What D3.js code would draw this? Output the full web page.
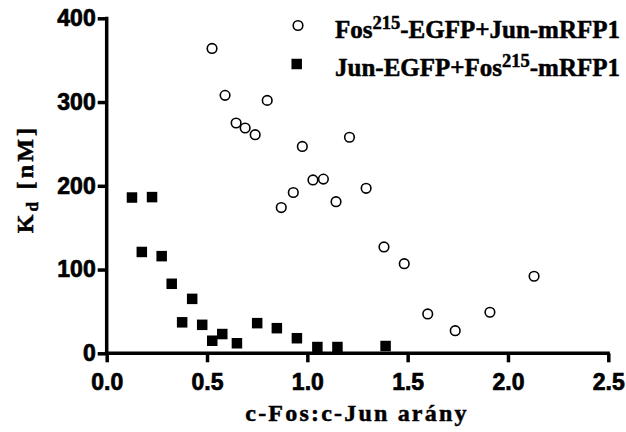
<!DOCTYPE html>
<html>
<head>
<meta charset="utf-8">
<script src="https://cdn.jsdelivr.net/npm/d3@7"></script>
<style>
  html, body { margin: 0; padding: 0; background: #fff; }
  svg { display: block; }
</style>
</head>
<body>
<svg id="chart" width="626" height="432"></svg>
<script>
// ---- data ----
const xTicks = [0.0, 0.5, 1.0, 1.5, 2.0, 2.5];
const xTickLabels = ["0.0", "0.5", "1.0", "1.5", "2.0", "2.5"];
const yTicks = [0, 100, 200, 300, 400];
const yTickLabels = ["0", "100", "200", "300", "400"];

const seriesNames = ["Fos215-EGFP+Jun-mRFP1", "Jun-EGFP+Fos215-mRFP1"];

// Series 1: open circles
const fosEgfpX = [0.525, 0.59, 0.645, 0.69, 0.74, 0.80, 0.87, 0.93, 0.975, 1.028, 1.08, 1.143, 1.21, 1.293, 1.382, 1.483, 1.60, 1.737, 1.91, 2.13];
const fosEgfpY = [364, 308, 275, 269, 261, 302, 174, 192, 247, 207, 208, 181, 258, 197, 127, 107, 47, 27, 49, 92];

// Series 2: filled squares
const junEgfpX = [0.126, 0.175, 0.226, 0.274, 0.324, 0.376, 0.426, 0.476, 0.526, 0.576, 0.649, 0.75, 0.848, 0.948, 1.05, 1.15, 1.39];
const junEgfpY = [186, 121, 186.5, 116, 83, 37, 65, 34, 15, 23, 12, 36, 30, 18, 7.5, 7.5, 8.7];

// ---- layout ----
const svg = d3.select("#chart");
const pLeft = 106.7, pRight = 608.3, pTop = 18.3, pBottom = 353.3;

const x = d3.scaleLinear().domain([0, 2.5]).range([pLeft, pRight]);
const y = d3.scaleLinear().domain([0, 400]).range([pBottom, pTop]);

const sansBold = "'Liberation Sans', Arial, sans-serif";
const serif = "'Liberation Serif', 'Times New Roman', serif";

// X axis
const gx = svg.append("g")
  .attr("transform", `translate(0,${pBottom})`)
  .call(d3.axisBottom(x).tickValues(xTicks)
        .tickFormat((d, i) => xTickLabels[i]).tickSizeOuter(0).tickSize(9));
gx.select(".domain").attr("stroke", "#000").attr("stroke-width", 3.5)
  .attr("d", `M${pLeft - 1.75},0H${pRight + 1.5}`);
gx.selectAll(".tick line").attr("stroke", "#000").attr("stroke-width", 3.5);
gx.selectAll(".tick text")
  .attr("font-family", sansBold).attr("font-weight", "bold").attr("font-size", 23)
  .attr("fill", "#000").attr("stroke", "#000").attr("stroke-width", 0.7)
  .attr("y", 20.7).attr("dy", "0.71em");

// Y axis
const gy = svg.append("g")
  .attr("transform", `translate(${pLeft},0)`)
  .call(d3.axisLeft(y).tickValues(yTicks)
        .tickFormat((d, i) => yTickLabels[i]).tickSizeOuter(0).tickSize(9));
gy.select(".domain").attr("stroke", "#000").attr("stroke-width", 3.5)
  .attr("d", `M0,${pBottom + 1.75}V${pTop - 1.5}`);
gy.selectAll(".tick line").attr("stroke", "#000").attr("stroke-width", 3.5);
gy.selectAll(".tick text")
  .attr("font-family", sansBold).attr("font-weight", "bold").attr("font-size", 23)
  .attr("fill", "#000").attr("stroke", "#000").attr("stroke-width", 0.7)
  .attr("x", -11);

// Data: squares
const sq = 10.5;
svg.append("g").selectAll("rect")
  .data(junEgfpX.map((v, i) => [v, junEgfpY[i]]))
  .join("rect")
  .attr("x", d => x(d[0]) - sq / 2)
  .attr("y", d => y(d[1]) - sq / 2)
  .attr("width", sq).attr("height", sq)
  .attr("fill", "#000");

// Data: circles
svg.append("g").selectAll("circle")
  .data(fosEgfpX.map((v, i) => [v, fosEgfpY[i]]))
  .join("circle")
  .attr("cx", d => x(d[0]))
  .attr("cy", d => y(d[1]))
  .attr("r", 4.8)
  .attr("fill", "#fff")
  .attr("stroke", "#000")
  .attr("stroke-width", 1.6);

// Legend
const legend = svg.append("g");
legend.append("circle").attr("cx", 298).attr("cy", 25.5).attr("r", 4.8)
  .attr("fill", "#fff").attr("stroke", "#000").attr("stroke-width", 1.6);
legend.append("rect").attr("x", 296.7 - sq / 2).attr("y", 64 - sq / 2)
  .attr("width", sq).attr("height", sq).attr("fill", "#000");

function legendText(yPos, parts) {
  const t = legend.append("text")
    .attr("x", 335).attr("y", yPos)
    .attr("font-family", serif).attr("font-weight", "bold")
    .attr("font-size", 25).attr("fill", "#000")
    .attr("stroke", "#000").attr("stroke-width", 0.5);
  parts.forEach(p => {
    const ts = t.append("tspan").text(p.t);
    if (p.sup) ts.attr("font-size", 18.5).attr("baseline-shift", "9.5");
  });
}
legendText(37.5, [{t: "Fos"}, {t: "215", sup: true}, {t: "-EGFP+Jun-mRFP1"}]);
legendText(76, [{t: "Jun-EGFP+Fos"}, {t: "215", sup: true}, {t: "-mRFP1"}]);

// Axis titles
svg.append("text")
  .attr("x", 357).attr("y", 421)
  .attr("text-anchor", "middle")
  .attr("font-family", serif).attr("font-weight", "bold")
  .attr("font-size", 24).attr("letter-spacing", 2.2)
  .attr("fill", "#000").attr("stroke", "#000").attr("stroke-width", 0.5)
  .text("c-Fos:c-Jun arány");

const yt = svg.append("text")
  .attr("transform", "translate(33,179) rotate(-90)")
  .attr("text-anchor", "middle")
  .attr("font-family", serif).attr("font-weight", "bold")
  .attr("font-size", 24).attr("letter-spacing", 3.2)
  .attr("fill", "#000").attr("stroke", "#000").attr("stroke-width", 0.5);
yt.append("tspan").text("K");
yt.append("tspan").text("d").attr("font-size", 17).attr("baseline-shift", "-5");
yt.append("tspan").text(" [nM]");
</script>
</body>
</html>
